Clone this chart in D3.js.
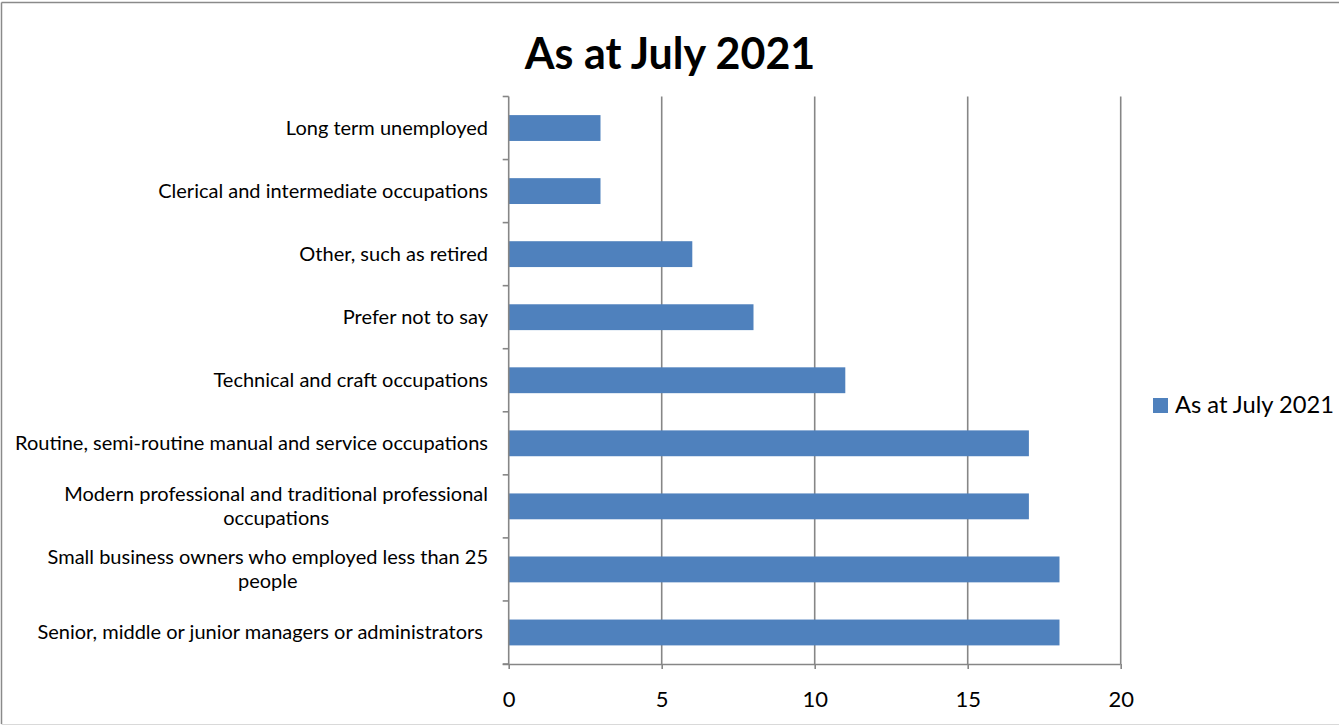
<!DOCTYPE html>
<html>
<head>
<meta charset="utf-8">
<script src="https://cdn.jsdelivr.net/npm/d3@7"></script>
<style>
  html, body { margin: 0; padding: 0; background: #fff; }
  svg { display: block; font-family: Lato, "Open Sans", sans-serif; }
</style>
</head>
<body>
<svg id="chart" width="1339" height="725"></svg>
<script>
const categories = [
  "Long term unemployed",
  "Clerical and intermediate occupations",
  "Other, such as retired",
  "Prefer not to say",
  "Technical and craft occupations",
  "Routine, semi-routine manual and service occupations",
  "Modern professional and traditional professional|occupations",
  "Small business owners who employed less than 25|people",
  "Senior, middle or junior managers or administrators\u00a0"
];
const values = [3, 3, 6, 8, 11, 17, 17, 18, 18];
const xTicks = [0, 5, 10, 15, 20];
const titleText = "As at July 2021";
const seriesName = "As at July 2021";

const svg = d3.select("#chart");
const W = 1339, H = 725;
const m = { left: 508.7, right: 1120.7, top: 96.5, bottom: 664 };
const barColor = "#4F81BD";
const gridColor = "#868686";

// frame
svg.append("line").attr("x1", 1.5).attr("x2", 1.5).attr("y1", 2.5).attr("y2", 724)
  .attr("stroke", "#8a8a8a").attr("stroke-width", 1.5);
svg.append("line").attr("x1", 1.5).attr("x2", W).attr("y1", 2.5).attr("y2", 2.5)
  .attr("stroke", "#8a8a8a").attr("stroke-width", 1.5);
svg.append("line").attr("x1", 1.5).attr("x2", W).attr("y1", 724.5).attr("y2", 724.5)
  .attr("stroke", "#d9d9d9").attr("stroke-width", 1);

const x = d3.scaleLinear().domain([0, 20]).range([m.left, m.right]);
const y = d3.scaleBand().domain(categories).range([m.top, m.bottom]).paddingInner(0.59).paddingOuter(0.295);
const yb = d3.scaleBand().domain(categories).range([m.top, m.bottom]);

// vertical gridlines
svg.append("g").selectAll("line").data(xTicks.filter(d => d > 0)).join("line")
  .attr("x1", d => x(d)).attr("x2", d => x(d))
  .attr("y1", m.top).attr("y2", m.bottom)
  .attr("stroke", gridColor).attr("stroke-width", 1.6);

// bars
svg.append("g").selectAll("rect").data(values).join("rect")
  .attr("x", x(0))
  .attr("y", (d, i) => y(categories[i]))
  .attr("width", d => x(d) - x(0))
  .attr("height", y.bandwidth())
  .attr("fill", barColor);

// x axis
const xAxis = d3.axisBottom(x).tickValues(xTicks).tickSize(5).tickSizeOuter(0);
const gx = svg.append("g").attr("transform", `translate(0,${m.bottom})`).call(xAxis);
gx.select(".domain").attr("stroke", gridColor).attr("stroke-width", 1.6).attr("d", `M${m.left - 6},0.5H${m.right}`);
gx.selectAll(".tick line").attr("stroke", gridColor).attr("stroke-width", 1.6);
gx.selectAll(".tick text").attr("fill", "#000").attr("y", 43).attr("dy", null)
  .style("font-size", "22px").style("font-family", "Lato, sans-serif");

// y axis line
svg.append("line").attr("x1", m.left).attr("x2", m.left).attr("y1", m.top).attr("y2", m.bottom)
  .attr("stroke", gridColor).attr("stroke-width", 1.6);
// y ticks at band boundaries
const bounds = categories.map(c => yb(c)).concat([m.bottom]);
svg.append("g").selectAll("line").data(bounds).join("line")
  .attr("x1", m.left - 6).attr("x2", m.left)
  .attr("y1", d => d).attr("y2", d => d)
  .attr("stroke", gridColor).attr("stroke-width", 1.6);

// category labels
const labelSize = 20;
const lg = svg.append("g").style("font-size", labelSize + "px").attr("fill", "#000");
categories.forEach(c => {
  const lines = c.split("|");
  const cy = yb(c) + yb.bandwidth() / 2;
  const lh = 24;
  if (lines.length === 1) {
    lg.append("text").attr("x", 488).attr("y", cy).attr("dy", "0.35em")
      .attr("text-anchor", "end").text(lines[0]);
  } else {
    const t0 = lg.append("text").attr("x", 488).attr("y", cy - lh / 2).attr("dy", "0.35em")
      .attr("text-anchor", "end").text(lines[0]);
    const w0 = t0.node().getComputedTextLength();
    lg.append("text").attr("x", 488 - w0 / 2).attr("y", cy + lh / 2).attr("dy", "0.35em")
      .attr("text-anchor", "middle").text(lines[1]);
  }
});

// title
svg.append("text").attr("x", 670).attr("y", 69).attr("text-anchor", "middle")
  .style("font-size", "43px").style("font-weight", "bold").attr("fill", "#000").text(titleText);

// legend
const legY = 405.5;
svg.append("rect").attr("x", 1153).attr("y", legY - 7.5).attr("width", 15).attr("height", 15).attr("fill", barColor);
svg.append("text").attr("x", 1175).attr("y", 413)
  .style("font-size", "23.7px").attr("fill", "#000").text(seriesName);
</script>
</body>
</html>
